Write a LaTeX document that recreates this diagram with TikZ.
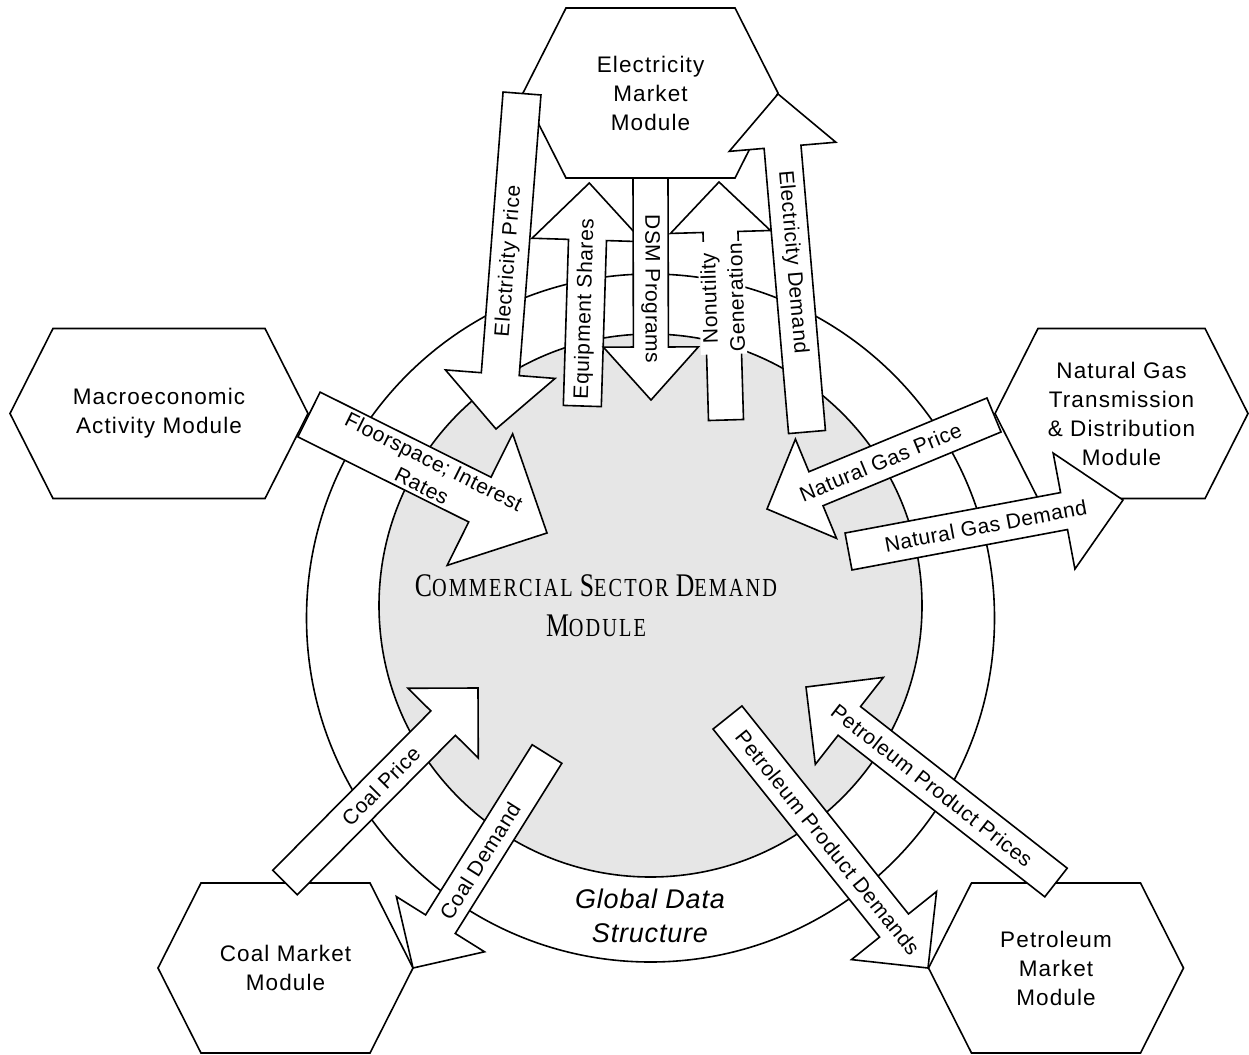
\documentclass[tikz,border=0pt]{standalone}
\usepackage{fontspec}
\setmainfont{Liberation Sans}
\newfontfamily\hexfont[LetterSpace=5]{Liberation Sans}
\newfontfamily\arrfont[LetterSpace=2.5]{Liberation Sans}
\newfontfamily\gdsfont[LetterSpace=3]{Liberation Sans}
\newfontfamily\cfont[FakeStretch=0.78,LetterSpace=8]{Liberation Serif}
\usetikzlibrary{calc}
\definecolor{coregray}{RGB}{230,230,230}
\newcommand\BigL[1]{{\fontsize{33}{40}\selectfont #1}}

\tikzset{
  lw/.style={line width=1.6pt},
  hexa/.style={lw, draw, fill=white, line join=miter},
  hexlabel/.style={align=center, font=\hexfont\fontsize{22.5}{29}\selectfont, inner sep=0pt},
  blk/.style={lw, draw, fill=white, line join=miter},
  albl/.style={align=center, font=\arrfont\fontsize{21}{27}\selectfont, inner sep=1pt},
  ring/.style={lw, draw, fill=white},
  core/.style={lw, draw, fill=coregray},
}

% hexagon: name, center, half width, text
\newcommand\hexmod[4]{%
  \coordinate (#1-c) at (#2);
  \draw[hexa] ($(#1-c)+(-#3,0)$) -- ++(43,-85) -- ++({2*#3-86},0) -- ++(43,85)
     -- ++(-43,85) -- ++({-(2*#3-86)},0) -- cycle;
  \node[hexlabel] (#1) at (#1-c) {#4};
}
% block arrow: name, tail centre, tip, body half width, head half width, head length
\newcommand\barrow[6]{%
  \coordinate (#1-t) at (#2);
  \coordinate (#1-p) at (#3);
  \coordinate (#1-h) at ($(#1-p)!#6pt!(#1-t)$);
  \filldraw[blk] ($(#1-t)!#4pt!90:(#1-p)$) -- ($(#1-h)!#4pt!90:(#1-p)$)
     -- ($(#1-h)!#5pt!90:(#1-p)$) -- (#1-p) -- ($(#1-h)!#5pt!-90:(#1-p)$)
     -- ($(#1-h)!#4pt!-90:(#1-p)$) -- ($(#1-t)!#4pt!-90:(#1-p)$) -- cycle;
}

\begin{document}
\begin{tikzpicture}[x=1pt,y=-1pt]
\useasboundingbox (0,0) rectangle (1249,1054);

% global data structure ring and core
\coordinate (ringc) at (650.5,618);
\coordinate (corec) at (650.5,605.5);
\draw[ring] (ringc) circle[radius=344];
\draw[core] (corec) circle[radius=271.5];

% modules
\hexmod{elec}{650.5,93}{127.5}{Electricity\\Market\\Module}
\hexmod{macro}{159,413.5}{149}{Macroeconomic\\Activity Module}
\hexmod{ngas}{1121.5,413.5}{126.5}{Natural Gas\\Transmission\\\& Distribution\\Module}
\hexmod{coal}{285.5,968}{127.5}{Coal Market\\Module}
\hexmod{petro}{1056,968}{127.5}{Petroleum\\Market\\Module}

% arrows
\barrow{ep}{522,93.5}{496,429}{19}{55}{55}
\barrow{es}{582.3,406}{589.3,183}{19}{55.5}{57}
\barrow{dsm}{650.5,178}{651,400}{17.5}{47.5}{53}
\barrow{nug}{726,420}{719,182}{17.5}{50}{50}
\barrow{ed}{807,432}{778,94}{18.5}{53.5}{53}
\barrow{fs}{309,414.5}{547,533}{25}{73.5}{75}
\barrow{ngp}{994,415}{767,509}{18.4}{53.7}{53}
\barrow{ngd}{848.5,551.5}{1123,500}{18.8}{59}{60}
\barrow{cp}{285,882.5}{478,688}{17.3}{49.5}{49.5}
\barrow{cd}{547,754}{413,968}{17.5}{52}{51.7}
\barrow{ppd}{727.5,717.5}{928,968}{18.5}{54.5}{54.4}
\barrow{ppp}{1056,882.5}{806,687}{18.2}{55.2}{55}

% arrow labels
\path (ep-t) -- (ep-p) node[albl, pos=0.5, sloped] (ep-l) {Electricity Price};
\path (es-t) -- (es-p) node[albl, pos=0.435, sloped] (es-l) {Equipment Shares};
\path (dsm-t) -- (dsm-p) node[albl, pos=0.5, sloped, allow upside down] (dsm-l) {DSM Programs};
\path (nug-t) -- (nug-p) node[albl, pos=0.513, sloped, allow upside down, fill=white, inner sep=2pt] (nug-l) {Nonutility\\Generation};
\path (ed-p) -- (ed-t) node[albl, pos=0.497, sloped, allow upside down] (ed-l) {Electricity Demand};
\path (fs-t) -- (fs-p) node[albl, pos=0.5, sloped] (fs-l) {Floorspace; Interest\\Rates};
\path (ngp-t) -- (ngp-p) node[albl, pos=0.5, sloped] (ngp-l) {Natural Gas Price};
\path (ngd-t) -- (ngd-p) node[albl, pos=0.5, sloped] (ngd-l) {Natural Gas Demand};
\path (cp-t) -- (cp-p) node[albl, pos=0.497, sloped] (cp-l) {Coal Price};
\path (cd-t) -- (cd-p) node[albl, pos=0.5, sloped] (cd-l) {Coal Demand};
\path (ppd-t) -- (ppd-p) node[albl, pos=0.5, sloped] (ppd-l) {Petroleum Product Demands};
\path (ppp-t) -- (ppp-p) node[albl, pos=0.496, sloped] (ppp-l) {Petroleum Product Prices};

% central titles
\node[align=center, inner sep=0pt, font=\cfont\fontsize{26}{40}\selectfont] (title) at (596,606)
  {\BigL{C}OMMERCIAL \BigL{S}ECTOR \BigL{D}EMAND\\\BigL{M}ODULE};
\node[align=center, inner sep=0pt, font=\gdsfont\itshape\fontsize{27}{34}\selectfont] (gds) at (650,916)
  {Global Data\\Structure};
\end{tikzpicture}
\end{document}
